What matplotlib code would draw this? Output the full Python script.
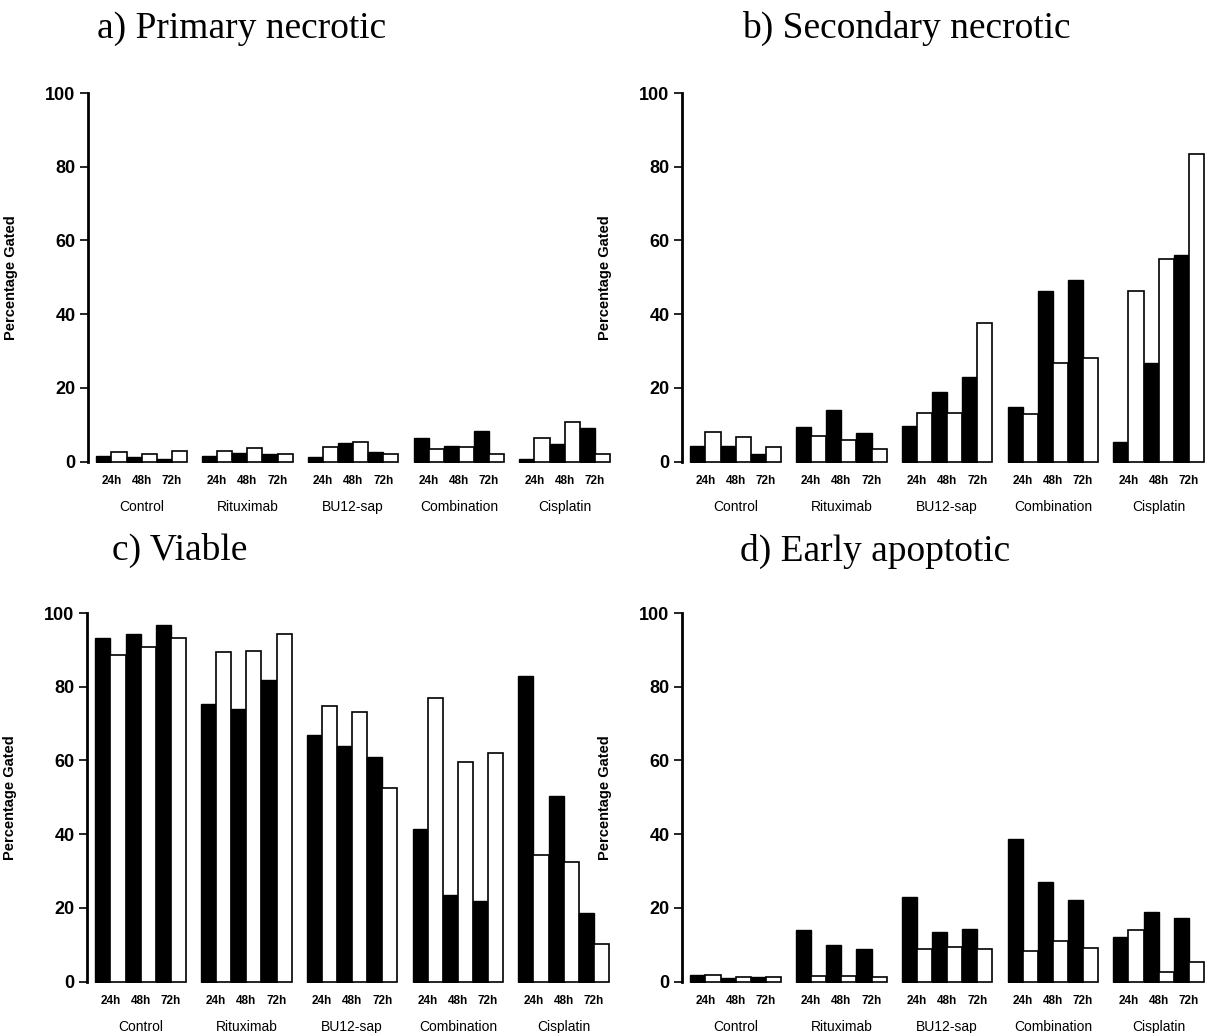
import matplotlib.pyplot as plt

groups = ['Control', 'Rituximab', 'BU12-sap', 'Combination', 'Cisplatin']
times = ['24h', '48h', '72h']

# per group: (black, white) for 24h, 48h, 72h
primary_black = [[1.5, 1.2, 0.8], [1.5, 2.4, 2.1], [1.1, 5.1, 2.7], [6.3, 4.3, 8.4], [0.6, 4.7, 9.2]]
primary_white = [[2.5, 2.0, 2.8], [2.9, 3.6, 2.1], [3.9, 5.4, 2.1], [3.4, 3.9, 2.0], [6.3, 10.8, 2.1]]

secondary_black = [[4.1, 4.1, 2.1], [9.3, 14.0, 7.7], [9.7, 18.9, 23.0], [14.9, 46.4, 49.3], [5.2, 26.6, 56.1]]
secondary_white = [[7.9, 6.6, 3.9], [7.0, 5.9, 3.4], [13.3, 13.3, 37.6], [12.9, 26.7, 28.1], [46.4, 55.0, 83.5]]

viable_black = [[93.3, 94.4, 96.7], [75.4, 74.0, 81.8], [66.8, 63.8, 60.8], [41.3, 23.6, 21.8], [83.0, 50.3, 18.7]]
viable_white = [[88.6, 90.8, 93.1], [89.5, 89.7, 94.2], [74.9, 73.1, 52.5], [76.8, 59.7, 62.0], [34.2, 32.4, 10.2]]

early_black = [[1.8, 1.0, 1.2], [14.1, 9.9, 8.8], [22.9, 13.4, 14.3], [38.6, 27.1, 22.0], [12.1, 19.0, 17.2]]
early_white = [[1.8, 1.3, 1.2], [1.6, 1.6, 1.2], [8.8, 9.3, 8.8], [8.3, 11.0, 9.2], [13.9, 2.7, 5.2]]

W, H = 1214, 1033
fig = plt.figure(figsize=(W / 100, H / 100), dpi=100)

sans = ['Liberation Sans Narrow', 'Liberation Sans', 'DejaVu Sans']
serif = ['Liberation Serif', 'DejaVu Serif']


def panel(left, top, bottom, black, white, title, title_x, title_y):
    right = left + 525
    ax = fig.add_axes([left / W, 1 - bottom / H, (right - left) / W, (bottom - top) / H])
    centers = []
    labels = []
    for g in range(len(groups)):
        for k in range(len(times)):
            x = g * 7 + 2 * k
            ax.bar(x, black[g][k], width=1, align='edge', color='black',
                   edgecolor='black', linewidth=1.0)
            ax.bar(x + 1, white[g][k], width=1, align='edge', color='white',
                   edgecolor='black', linewidth=1.2)
            centers.append(x + 1)
            labels.append(times[k])
        ax.text(g * 7 + 3, -0.118, groups[g], transform=ax.get_xaxis_transform(),
                ha='center', va='center', fontsize=10, family=sans)
    ax.set_xlim(-0.55, 34.2)
    ax.set_ylim(-0.4, 100)
    ax.set_yticks([0, 20, 40, 60, 80, 100])
    ax.set_xticks(centers)
    ax.set_xticklabels(labels, fontsize=8.5, fontweight='bold', family=sans)
    ax.tick_params(axis='x', length=0, pad=9)
    ax.tick_params(axis='y', length=6, width=1.2, pad=3, labelsize=13)
    for t in ax.get_yticklabels():
        t.set_fontweight('bold')
        t.set_family(sans)
    for s in ['top', 'right', 'bottom']:
        ax.spines[s].set_visible(False)
    ax.spines['left'].set_linewidth(2)
    ax.spines['left'].set_bounds(0, 100)
    ax.set_ylabel('Percentage Gated', fontsize=10.5, fontweight='bold', family=sans)
    ax.yaxis.set_label_coords(-0.133, 0.5)
    fig.text(title_x / W, 1 - title_y / H, title, fontsize=27, family=serif,
             ha='left', va='baseline')
    return ax


panel(88, 93, 463, primary_black, primary_white, 'a) Primary necrotic', 97, 38)
panel(682, 93, 463, secondary_black, secondary_white, 'b) Secondary necrotic', 742, 38)
panel(87, 613, 983, viable_black, viable_white, 'c) Viable', 112, 560)
panel(682, 613, 983, early_black, early_white, 'd) Early apoptotic', 740, 561)

fig.savefig('out.png', dpi=100)
